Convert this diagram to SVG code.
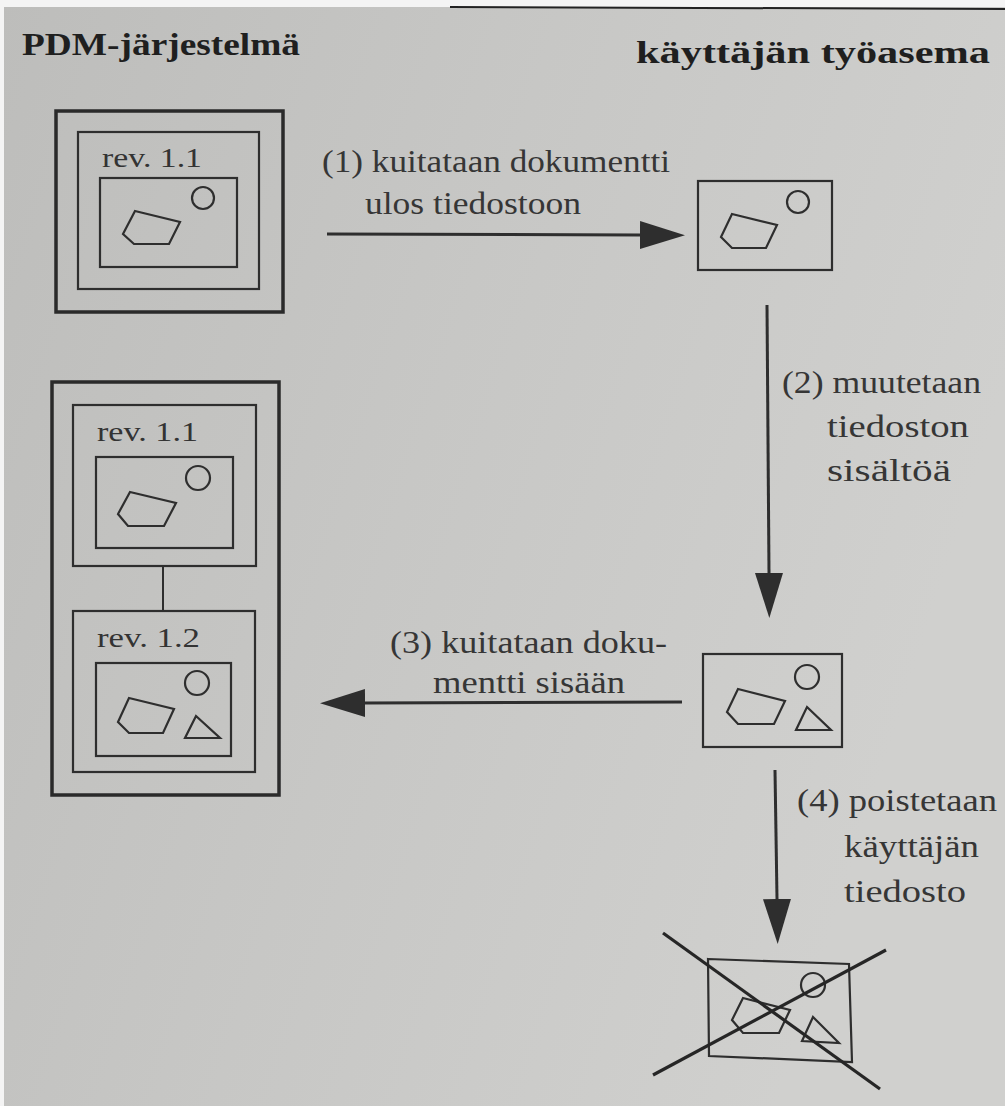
<svg xmlns="http://www.w3.org/2000/svg" width="1005" height="1106" viewBox="0 0 1005 1106">
  <defs>
    <linearGradient id="paper" x1="0" y1="0" x2="1" y2="0.35">
      <stop offset="0" stop-color="#bdbdbb"/>
      <stop offset="0.5" stop-color="#c7c7c5"/>
      <stop offset="1" stop-color="#d0d0ce"/>
    </linearGradient>
    <marker id="head" markerUnits="userSpaceOnUse" markerWidth="46" markerHeight="28" refX="0" refY="14" orient="auto">
      <path d="M0,0 L45,14 L0,28 Z" fill="#2e2e2e"/>
    </marker>
    <style>
      .outer { fill: none; stroke: #2a2a2a; stroke-width: 3.5; }
      .box { fill: none; stroke: #2e2e2e; stroke-width: 2.2; }
      .shape { fill: none; stroke: #2e2e2e; stroke-width: 2.2; stroke-linejoin: miter; }
      .conn { fill: none; stroke: #2e2e2e; stroke-width: 3; marker-end: url(#head); }
      .cross { stroke: #262626; stroke-width: 3.2; }
      .head { font-weight: bold; font-size: 31px; fill: #1f1f1f; }
      .lbl { font-size: 31px; fill: #363636; }
      .rev { font-size: 27px; fill: #333333; }
    </style>
  </defs>

  <rect x="0" y="0" width="1005" height="1106" fill="url(#paper)"/>
  <rect x="0" y="0" width="1005" height="7" fill="#f4f4f4"/>
  <rect x="0" y="0" width="4" height="1106" fill="#f4f4f4"/>
  <line x1="450" y1="7" x2="1005" y2="9" stroke="#222" stroke-width="2"/>

  <g id="headers" font-family="'Liberation Serif', 'Times New Roman', 'DejaVu Serif', serif">
    <text class="head" x="22" y="55" textLength="278" lengthAdjust="spacingAndGlyphs">PDM-järjestelmä</text>
    <text class="head" x="636" y="63" textLength="354" lengthAdjust="spacingAndGlyphs">käyttäjän työasema</text>
  </g>

  <g id="pdm-rev-1-1" font-family="'Liberation Serif', 'Times New Roman', 'DejaVu Serif', serif">
    <rect class="outer" x="56" y="111" width="227" height="201"/>
    <rect class="box" x="78" y="132" width="181" height="157"/>
    <text class="rev" x="102" y="167" textLength="100" lengthAdjust="spacingAndGlyphs">rev. 1.1</text>
    <rect class="box" x="100" y="178" width="137" height="89"/>
    <circle class="shape" cx="203" cy="198" r="11"/>
    <polygon class="shape" points="135,211 180,222 169,244 134,244 123,234"/>
  </g>

  <g id="workstation-file">
    <rect class="box" x="698" y="181" width="134" height="89"/>
    <circle class="shape" cx="798" cy="202" r="11"/>
    <polygon class="shape" points="732,214 777,225 766,248 732,248 721,237"/>
  </g>

  <g id="pdm-rev-history" font-family="'Liberation Serif', 'Times New Roman', 'DejaVu Serif', serif">
    <rect class="outer" x="52" y="382" width="227" height="413"/>
    <g id="pdm-rev-1-1-b">
      <rect class="box" x="73" y="405" width="183" height="161"/>
      <text class="rev" x="97" y="441" textLength="101" lengthAdjust="spacingAndGlyphs">rev. 1.1</text>
      <rect class="box" x="96" y="457" width="137" height="91"/>
      <circle class="shape" cx="198" cy="478" r="12"/>
      <polygon class="shape" points="130,492 176,503 164,526 128,526 118,514"/>
    </g>
    <line x1="163" y1="566" x2="163" y2="611" stroke="#2e2e2e" stroke-width="2"/>
    <g id="pdm-rev-1-2">
      <rect class="box" x="73" y="611" width="182" height="161"/>
      <text class="rev" x="97" y="647" textLength="103" lengthAdjust="spacingAndGlyphs">rev. 1.2</text>
      <rect class="box" x="96" y="663" width="135" height="93"/>
      <circle class="shape" cx="197" cy="683" r="12"/>
      <polygon class="shape" points="129,698 174,709 163,733 129,733 118,722"/>
      <polygon class="shape" points="196,716 220,738 185,738"/>
    </g>
  </g>

  <g id="workstation-file-modified">
    <rect class="box" x="703" y="654" width="139" height="93"/>
    <circle class="shape" cx="807" cy="677" r="12"/>
    <polygon class="shape" points="738,689 785,701 774,724 738,724 727,712"/>
    <polygon class="shape" points="807,707 831,730 796,730"/>
  </g>

  <g id="workstation-file-deleted">
    <polygon class="box" points="708,959 849,964 852,1062 709,1056"/>
    <circle class="shape" cx="813" cy="985" r="12"/>
    <polygon class="shape" points="743,998 790,1010 779,1033 743,1033 732,1020"/>
    <polygon class="shape" points="813,1017 839,1043 802,1041"/>
    <line class="cross" x1="663" y1="933" x2="880" y2="1089"/>
    <line class="cross" x1="653" y1="1075" x2="886" y2="950"/>
  </g>

  <g id="connectors">
    <path class="conn" d="M327,234 L640,235"/>
    <path class="conn" d="M767,305 L769,573"/>
    <path class="conn" d="M682,702 L365,703"/>
    <path class="conn" d="M775,770 L777,899"/>
  </g>

  <g id="labels" font-family="'Liberation Serif', 'Times New Roman', 'DejaVu Serif', serif">
    <text class="lbl" x="322" y="172" textLength="348" lengthAdjust="spacingAndGlyphs">(1) kuitataan dokumentti</text>
    <text class="lbl" x="365" y="214" textLength="216" lengthAdjust="spacingAndGlyphs">ulos tiedostoon</text>
    <text class="lbl" x="782" y="393" textLength="199" lengthAdjust="spacingAndGlyphs">(2) muutetaan</text>
    <text class="lbl" x="827" y="437" textLength="142" lengthAdjust="spacingAndGlyphs">tiedoston</text>
    <text class="lbl" x="827" y="481" textLength="124" lengthAdjust="spacingAndGlyphs">sisältöä</text>
    <text class="lbl" x="390" y="653" textLength="277" lengthAdjust="spacingAndGlyphs">(3) kuitataan doku-</text>
    <text class="lbl" x="433" y="693" textLength="192" lengthAdjust="spacingAndGlyphs">mentti sisään</text>
    <text class="lbl" x="797" y="811" textLength="200" lengthAdjust="spacingAndGlyphs">(4) poistetaan</text>
    <text class="lbl" x="844" y="857" textLength="135" lengthAdjust="spacingAndGlyphs">käyttäjän</text>
    <text class="lbl" x="844" y="902" textLength="122" lengthAdjust="spacingAndGlyphs">tiedosto</text>
  </g>
</svg>
